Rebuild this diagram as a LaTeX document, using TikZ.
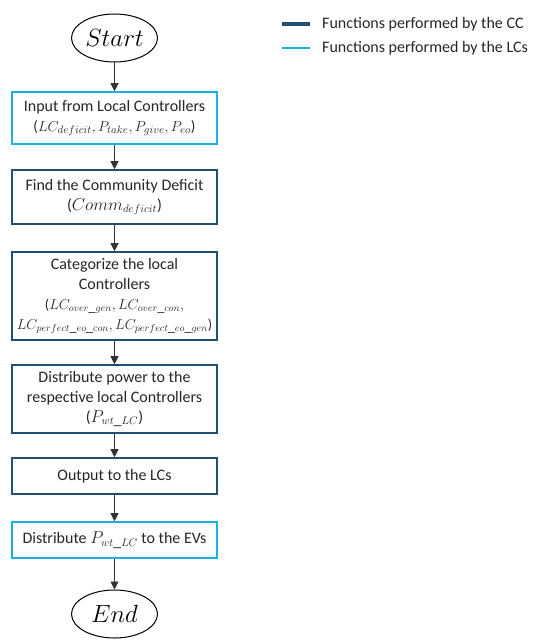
\documentclass[tikz,border=0pt]{standalone}
\usepackage{fontspec}
\setmainfont{Carlito}
\usetikzlibrary{shapes.geometric,arrows.meta}
\definecolor{ccblue}{HTML}{1F4E79}
\definecolor{lcblue}{HTML}{1CB1E2}
\definecolor{ink}{HTML}{262626}
\definecolor{flow}{HTML}{333333}
\tikzset{
  procbox/.style={draw, line width=1.6pt, rectangle, minimum width=205pt,
    align=center, inner sep=1pt, text=ink,
    font=\fontsize{16}{20}\selectfont},
  ccbox/.style={procbox, draw=ccblue},
  lcbox/.style={procbox, draw=lcblue},
  terminal/.style={draw, ellipse, line width=1pt, minimum width=86pt,
    minimum height=48pt, inner sep=0pt, font=\fontsize{23}{26}\selectfont},
  flowarrow/.style={draw=flow, line width=0.8pt, -{Triangle[length=8pt,width=8pt]}},
  legendtext/.style={anchor=west, text=ink, inner sep=0pt,
    font=\fontsize{16}{18}\selectfont}
}
\newcommand{\mathline}[1]{{\fontsize{15}{20}\selectfont#1}}
\newcommand{\tightline}[1]{{\fontsize{14.2}{20}\selectfont#1}}
\begin{document}
\begin{tikzpicture}[x=1pt, y=-1pt]
  \useasboundingbox (0,0) rectangle (534,642);

  % flowchart
  \node[terminal] (start) at (114.5,38) {$Start$};
  \node[lcbox, minimum height=52pt] (input) at (114.5,118)
    {Input from Local Controllers\\\mathline{($LC_{deficit}, P_{take}, P_{give}, P_{eo}$)}};
  \node[ccbox, minimum height=54pt] (deficit) at (114.5,197)
    {Find the Community Deficit\\($Comm_{deficit}$)};
  \node[ccbox, minimum height=88pt] (categorize) at (114.5,296)
    {Categorize the local\\Controllers\\\tightline{($LC_{over\_gen}, LC_{over\_con},$}\\\tightline{$LC_{perfect\_eo\_con}, LC_{perfect\_eo\_gen}$)}};
  \node[ccbox, minimum height=68pt] (distribute) at (114.5,399)
    {Distribute power to the\\respective local Controllers\\($P_{wt\_LC}$)};
  \node[ccbox, minimum height=36pt] (output) at (114.5,476)
    {Output to the LCs};
  \node[lcbox, minimum height=36pt] (evs) at (114.5,540)
    {Distribute $P_{wt\_LC}$ to the EVs};
  \node[terminal] (end) at (114.5,614) {$End$};

  \draw[flowarrow] (start) -- (input);
  \draw[flowarrow] (input) -- (deficit);
  \draw[flowarrow] (deficit) -- (categorize);
  \draw[flowarrow] (categorize) -- (distribute);
  \draw[flowarrow] (distribute) -- (output);
  \draw[flowarrow] (output) -- (evs);
  \draw[flowarrow] (evs) -- (end);

  % legend
  \coordinate (ccA) at (282,24);
  \coordinate (ccB) at (310,24);
  \coordinate (lcA) at (282,48);
  \coordinate (lcB) at (310,48);
  \draw[ccblue, line width=4pt] (ccA) -- (ccB);
  \draw[lcblue, line width=1.5pt] (lcA) -- (lcB);
  \node[legendtext] (cclabel) at (322,24) {Functions performed by the CC};
  \node[legendtext] (lclabel) at (322,48) {Functions performed by the LCs};
\end{tikzpicture}
\end{document}
